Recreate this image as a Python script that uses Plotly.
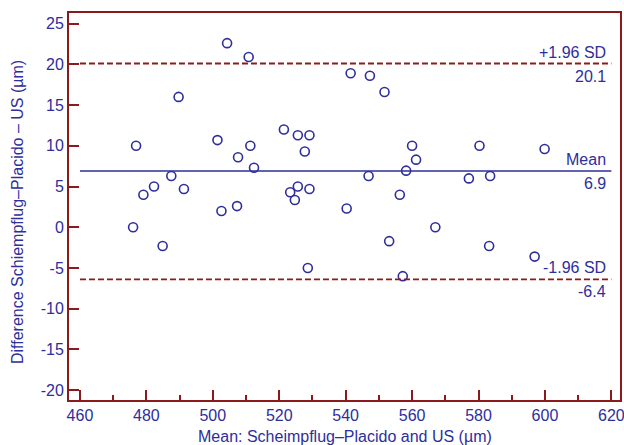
import plotly.graph_objects as go

# Bland-Altman data: mean of methods (x) and difference (y)
mean_vals = [476.9, 479.1, 482.3, 487.5, 491.3, 489.7, 504.3, 510.8, 501.4, 507.6,
             511.3, 512.4, 502.6, 507.3, 521.4, 525.6, 529.1, 527.7, 523.3, 525.6,
             529.1, 524.7, 476.0, 484.9, 528.6, 541.5, 547.3, 551.7, 560.0, 561.2,
             580.3, 599.9, 558.2, 546.9, 577.1, 583.5, 556.3, 540.3, 553.1, 567.0,
             583.2, 596.9, 557.2]
diff_vals = [10.0, 4.0, 5.0, 6.3, 4.7, 16.0, 22.6, 20.9, 10.7, 8.6,
             10.0, 7.3, 2.0, 2.6, 12.0, 11.3, 11.3, 9.3, 4.3, 5.0,
             4.7, 3.35, 0.0, -2.3, -5.0, 18.9, 18.6, 16.6, 10.0, 8.3,
             10.0, 9.6, 6.95, 6.3, 6.0, 6.3, 4.0, 2.3, -1.7, 0.0,
             -2.3, -3.6, -6.0]

mean_diff = 6.9
upper_loa = 20.1
lower_loa = -6.4
line_x_start = 460
line_x_end = 620

x_ticks = [460, 480, 500, 520, 540, 560, 580, 600, 620]
x_ticklabels = ["460", "480", "500", "520", "540", "560", "580", "600", "620"]
y_ticks = [-20, -15, -10, -5, 0, 5, 10, 15, 20, 25]
y_ticklabels = ["-20", "-15", "-10", "-5", "0", "5", "10", "15", "20", "25"]

x_title = "Mean: Scheimpflug\u2013Placido and US (\u00b5m)"
y_title = "Difference Schiempflug\u2013Placido \u2013 US (\u00b5m)"

BLUE = "#2e2e9c"
RED = "#8b1a1a"
FONT = "Liberation Sans, Arial, sans-serif"
FS = 16

W, H = 624, 445
ML, MR, MT, MB = 69, 4, 13, 45
PW, PH = W - ML - MR, H - MT - MB

fig = go.Figure()
fig.add_trace(go.Scatter(
    x=mean_vals, y=diff_vals, mode="markers",
    marker=dict(symbol="circle-open", size=9, color=BLUE, line=dict(width=1.6, color=BLUE)),
    showlegend=False, hoverinfo="x+y"))

# reference lines
fig.add_shape(type="line", x0=line_x_start, x1=line_x_end, y0=mean_diff, y1=mean_diff,
              xref="x", yref="y", line=dict(color=BLUE, width=1.6))
for v in (upper_loa, lower_loa):
    fig.add_shape(type="line", x0=line_x_start, x1=line_x_end, y0=v, y1=v,
                  xref="x", yref="y", line=dict(color=RED, width=1.8, dash="6px,3px"))

labels = [("+1.96 SD", upper_loa, "%.1f" % upper_loa),
          ("Mean", mean_diff, "%.1f" % mean_diff),
          ("-1.96 SD", lower_loa, "%.1f" % lower_loa)]
for top_txt, v, bot_txt in labels:
    fig.add_annotation(x=line_x_end - 1.0, y=v, text=top_txt, showarrow=False,
                       xanchor="right", yanchor="bottom", yshift=1,
                       font=dict(family=FONT, size=FS, color=BLUE))
    fig.add_annotation(x=line_x_end - 1.0, y=v, text=bot_txt, showarrow=False,
                       xanchor="right", yanchor="top", yshift=-2,
                       font=dict(family=FONT, size=FS, color=BLUE))

# axis titles
fig.add_annotation(xref="paper", yref="paper", x=(17 - ML) / PW, y=(H - MB - 212) / PH,
                   text=y_title, textangle=-90, showarrow=False,
                   xanchor="center", yanchor="middle",
                   font=dict(family=FONT, size=FS, color=BLUE))
fig.add_annotation(xref="paper", yref="paper", x=(345 - ML) / PW, y=(H - MB - 436) / PH,
                   text=x_title, showarrow=False,
                   xanchor="center", yanchor="middle",
                   font=dict(family=FONT, size=FS, color=BLUE))

fig.update_layout(
    width=W, height=H,
    margin=dict(l=ML, r=MR, t=MT, b=MB),
    plot_bgcolor="white", paper_bgcolor="white",
    font=dict(family=FONT, size=FS, color=BLUE),
    xaxis=dict(range=[456.7, 622.6], tickvals=x_ticks, ticktext=x_ticklabels,
               showgrid=False, zeroline=False, automargin=False,
               ticklabeloverflow="allow",
               showline=True, mirror=True, linecolor=RED, linewidth=2,
               ticks="inside", ticklen=10, tickwidth=2, tickcolor=RED,
               minor=dict(ticks="inside", ticklen=5, tickwidth=2, tickcolor=RED,
                          dtick=10, tick0=460, showgrid=False),
               tickfont=dict(family=FONT, size=FS, color=BLUE)),
    yaxis=dict(range=[-21.2, 26.3], tickvals=y_ticks, ticktext=y_ticklabels,
               showgrid=False, zeroline=False, automargin=False,
               ticklabeloverflow="allow",
               showline=True, mirror=True, linecolor=RED, linewidth=2,
               ticks="inside", ticklen=10, tickwidth=2, tickcolor=RED,
               tickfont=dict(family=FONT, size=FS, color=BLUE)),
)

fig.write_html("out.html", config={"displayModeBar": False},
               post_script="document.body.style.margin='0px';document.body.style.overflow='hidden';")
